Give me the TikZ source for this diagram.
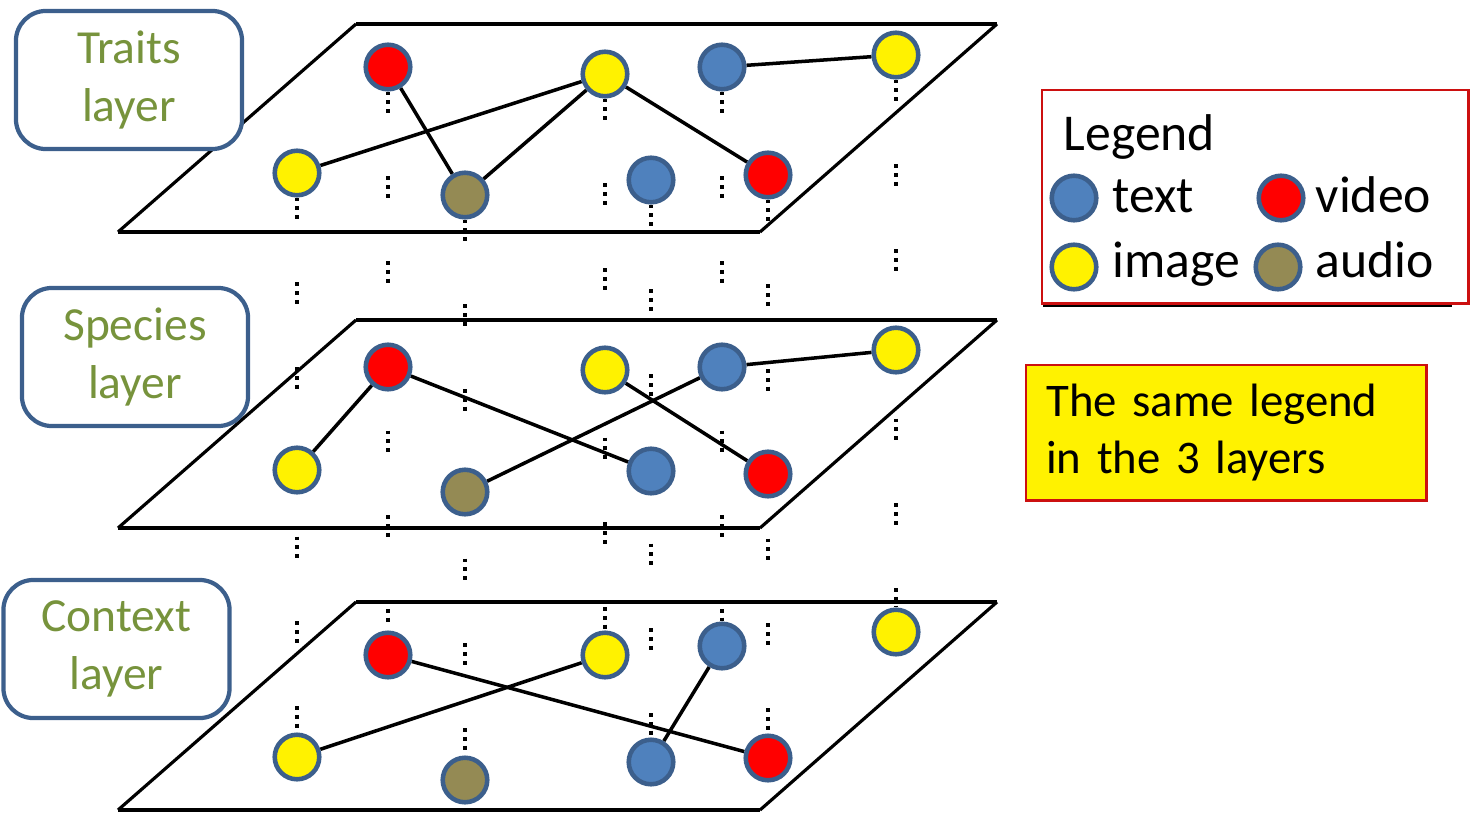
\documentclass[tikz,border=0pt]{standalone}
\usepackage{fontspec}
\setmainfont{Carlito}
\usetikzlibrary{backgrounds}
\definecolor{NodeLine}{RGB}{60,95,140}
\definecolor{TextBlue}{RGB}{79,129,189}
\definecolor{AudioOlive}{RGB}{148,138,84}
\definecolor{LabelGreen}{RGB}{119,147,60}
\definecolor{BoxRed}{RGB}{204,16,16}

\begin{document}
\begin{tikzpicture}[x=0.01cm,y=-0.01cm,
    nd/.style={circle,draw=NodeLine,line width=1.3pt,minimum size=4.45mm,inner sep=0pt},
    tx/.style={nd,fill=TextBlue},
    vd/.style={nd,fill=red},
    im/.style={nd,fill=yellow},
    au/.style={nd,fill=AudioOlive},
    lk/.style={black,line width=1pt},
    vl/.style={black,line width=1.1pt,dash pattern=on 1.1pt off 1.4pt on 1.1pt off 1.4pt on 1.1pt off 18pt},
    rim/.style={black,line width=1.2pt},
    slant/.style={black,line width=0.9pt},
    lay/.style={draw=NodeLine,line width=1.2pt,rounded corners=3mm,fill=white,minimum width=2.26cm,minimum height=1.38cm,text=LabelGreen,align=center,font=\fontsize{13.5}{16.5}\selectfont},
    lbl/.style={anchor=base west,inner sep=0pt,font=\fontsize{14.7}{17}\selectfont}
]
\useasboundingbox (0,0) rectangle (1470,821);

% Traits layer
\node[im] (t1) at (297,173) {};
\node[vd] (t2) at (388,67) {};
\node[au] (t3) at (465,195) {};
\node[im] (t4) at (605,74) {};
\node[tx] (t5) at (651,180) {};
\node[tx] (t6) at (722,67) {};
\node[vd] (t7) at (768,175) {};
\node[im] (t8) at (896,55) {};
% Species layer
\node[im] (s1) at (297,470) {};
\node[vd] (s2) at (388,367) {};
\node[au] (s3) at (465,492) {};
\node[im] (s4) at (605,370) {};
\node[tx] (s5) at (651,471) {};
\node[tx] (s6) at (722,367) {};
\node[vd] (s7) at (768,474) {};
\node[im] (s8) at (896,350) {};
% Context layer
\node[im] (c1) at (297,757) {};
\node[vd] (c2) at (388,655) {};
\node[au] (c3) at (465,780) {};
\node[im] (c4) at (605,655) {};
\node[tx] (c5) at (651,762) {};
\node[tx] (c6) at (722,646) {};
\node[vd] (c7) at (768,758) {};
\node[im] (c8) at (896,632) {};

\begin{pgfonlayer}{background}
    % same node through the three layers
    \foreach \i in {1,...,8} { \draw[vl] (t\i) -- (c\i); }
    % planes
    \foreach \t in {24,320,602} {
        \draw[rim] (356,\t) -- (997,\t);
        \draw[rim] (118,\t+208) -- (760,\t+208);
        \draw[slant] (118,\t+208) -- (356,\t);
        \draw[slant] (760,\t+208) -- (997,\t);
    }
    % links inside each layer
    \draw[lk] (t1) -- (t4);
    \draw[lk] (t2) -- (t3);
    \draw[lk] (t3) -- (t4);
    \draw[lk] (t4) -- (t7);
    \draw[lk] (t6) -- (t8);
    \draw[lk] (s1) -- (s2);
    \draw[lk] (s2) -- (s5);
    \draw[lk] (s3) -- (s6);
    \draw[lk] (s4) -- (s7);
    \draw[lk] (s6) -- (s8);
    \draw[lk] (c2) -- (c7);
    \draw[lk] (c1) -- (c4);
    \draw[lk] (c6) -- (c5);
\end{pgfonlayer}

% layer names
\node[lay] (traits) at (129,80) {Traits\\layer};
\node[lay] (species) at (135,357) {Species\\layer};
\node[lay] (context) at (116.5,649) {Context\\layer};

% legend
\draw[black,line width=1pt] (1043,305) -- (1452,305);
\node[draw=BoxRed,line width=0.7pt,fill=white,anchor=north west,minimum width=4.26cm,minimum height=2.13cm] (legend) at (1041,89) {};
\node[lbl] (legtitle) at (1063,150) {Legend};
\node[tx] (ltx) at (1074,198) {};
\node[lbl] (ltxlbl) at (1112,212) {text};
\node[vd] (lvd) at (1281,198) {};
\node[lbl] (lvdlbl) at (1315,212) {video};
\node[im] (lim) at (1074,267) {};
\node[lbl] (limlbl) at (1112,277) {image};
\node[au] (lau) at (1278,267) {};
\node[lbl] (laulbl) at (1315,277) {audio};

% note
\node[draw=BoxRed,line width=0.7pt,fill=yellow,anchor=north west,minimum width=4.0cm,minimum height=1.35cm,text width=3.6cm,inner xsep=0.2cm,align=left,font=\fontsize{13.3}{16.2}\selectfont] (note) at (1025,364) {The same legend\\in the 3 layers};
\end{tikzpicture}
\end{document}
